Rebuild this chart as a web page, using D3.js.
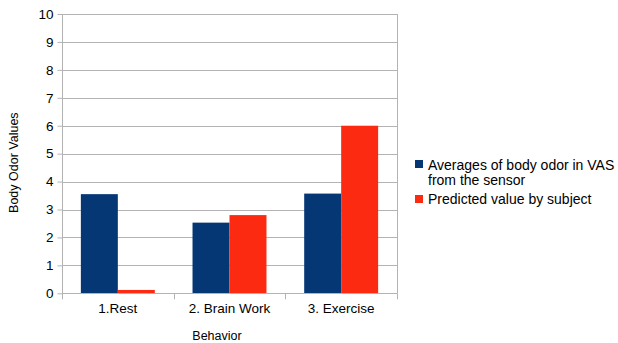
<!DOCTYPE html>
<html><head><meta charset="utf-8">
<script src="https://cdn.jsdelivr.net/npm/d3@7"></script>
<style>body{margin:0;background:#fff;}svg{display:block;font-family:"Liberation Sans",Arial,sans-serif;}</style>
</head><body>
<svg id="c" width="618" height="343"></svg>
<script>
const categories = ["1.Rest", "2. Brain Work", "3. Exercise"];
const seriesNames = ["Averages of body odor in VAS from the sensor", "Predicted value by subject"];
const sensorValues = [3.55, 2.53, 3.57];
const predictedValues = [0.12, 2.8, 6.0];
const yTicks = [0,1,2,3,4,5,6,7,8,9,10];
const colors = ["#063775", "#fd2a12"];

const svg = d3.select("#c");
const m = {left:62, right:221, top:14, bottom:50};
const W = 618, H = 343;
const x = d3.scaleBand().domain(categories).range([m.left, W - m.right]).paddingInner(0).paddingOuter(0);
const x1 = d3.scaleBand().domain([0,1]).range([0, x.bandwidth()]).paddingInner(0).paddingOuter(0.51);
const y = d3.scaleLinear().domain([0,10]).range([H - m.bottom + 0.3, m.top]);

// gridlines
svg.append("g").selectAll("line").data(yTicks).join("line")
  .attr("x1", m.left).attr("x2", W - m.right)
  .attr("y1", d => Math.round(y(d)) + 0.5).attr("y2", d => Math.round(y(d)) + 0.5)
  .attr("stroke", "#b3b3b3").attr("stroke-width", 1);
// right border
svg.append("line").attr("x1", W - m.right + 0.5).attr("x2", W - m.right + 0.5)
  .attr("y1", m.top).attr("y2", y(0)).attr("stroke", "#b3b3b3");

// bars
const g = svg.append("g");
categories.forEach((c, i) => {
  [sensorValues[i], predictedValues[i]].forEach((v, s) => {
    g.append("rect")
      .attr("x", x(c) + x1(s)).attr("width", x1.bandwidth())
      .attr("y", y(v)).attr("height", y(0) - y(v))
      .attr("fill", colors[s]);
  });
});

// y axis
const yAxis = d3.axisLeft(y).tickValues(yTicks).tickSize(5).tickPadding(4);
const ya = svg.append("g").attr("transform", `translate(${m.left + 0.5},0)`).call(yAxis);
ya.select(".domain").attr("stroke", "#b3b3b3").attr("d", `M-0,${m.top}V${y(0)+6}`);
ya.selectAll(".tick line").attr("stroke", "#b3b3b3");
ya.selectAll("text").attr("font-size", 13.5).attr("fill", "#000").attr("font-family", "Liberation Sans, Arial, sans-serif");

// x axis
const xAxis = d3.axisBottom(x).tickSize(0).tickPadding(10);
const xa = svg.append("g").attr("transform", `translate(0,${Math.round(y(0)) + 0.5})`).call(xAxis);
xa.select(".domain").attr("stroke", "#b3b3b3").attr("d", `M${m.left},0H${W - m.right}`);
xa.selectAll("text").attr("font-size", 13.5).attr("fill", "#000").attr("font-family", "Liberation Sans, Arial, sans-serif");
// category separators
svg.append("g").selectAll("line").data(categories.slice(1)).join("line")
  .attr("x1", d => Math.round(x(d)) + 0.5).attr("x2", d => Math.round(x(d)) + 0.5)
  .attr("y1", y(0)).attr("y2", y(0) + 6).attr("stroke", "#b3b3b3");
svg.append("line").attr("x1", W - m.right + 0.5).attr("x2", W - m.right + 0.5)
  .attr("y1", y(0)).attr("y2", y(0) + 6).attr("stroke", "#b3b3b3");

// axis titles
svg.append("text").attr("x", 217).attr("y", 340).attr("text-anchor", "middle")
  .attr("font-size", 12.5).text("Behavior");
svg.append("text").attr("transform", `translate(18,${(m.top + y(0))/2 + 9}) rotate(-90)`)
  .attr("text-anchor", "middle").attr("font-size", 12.5).text("Body Odor Values");

// legend
const lg = svg.append("g").attr("transform", "translate(415,0)");
lg.append("rect").attr("x", 0).attr("y", 160).attr("width", 8).attr("height", 8).attr("fill", colors[0]);
lg.append("text").attr("x", 13).attr("y", 170).attr("font-size", 14).text("Averages of body odor in VAS");
lg.append("text").attr("x", 13).attr("y", 185).attr("font-size", 14).text("from the sensor");
lg.append("rect").attr("x", 0).attr("y", 195).attr("width", 8).attr("height", 8).attr("fill", colors[1]);
lg.append("text").attr("x", 13).attr("y", 204).attr("font-size", 14).text(seriesNames[1]);
</script>
</body></html>
